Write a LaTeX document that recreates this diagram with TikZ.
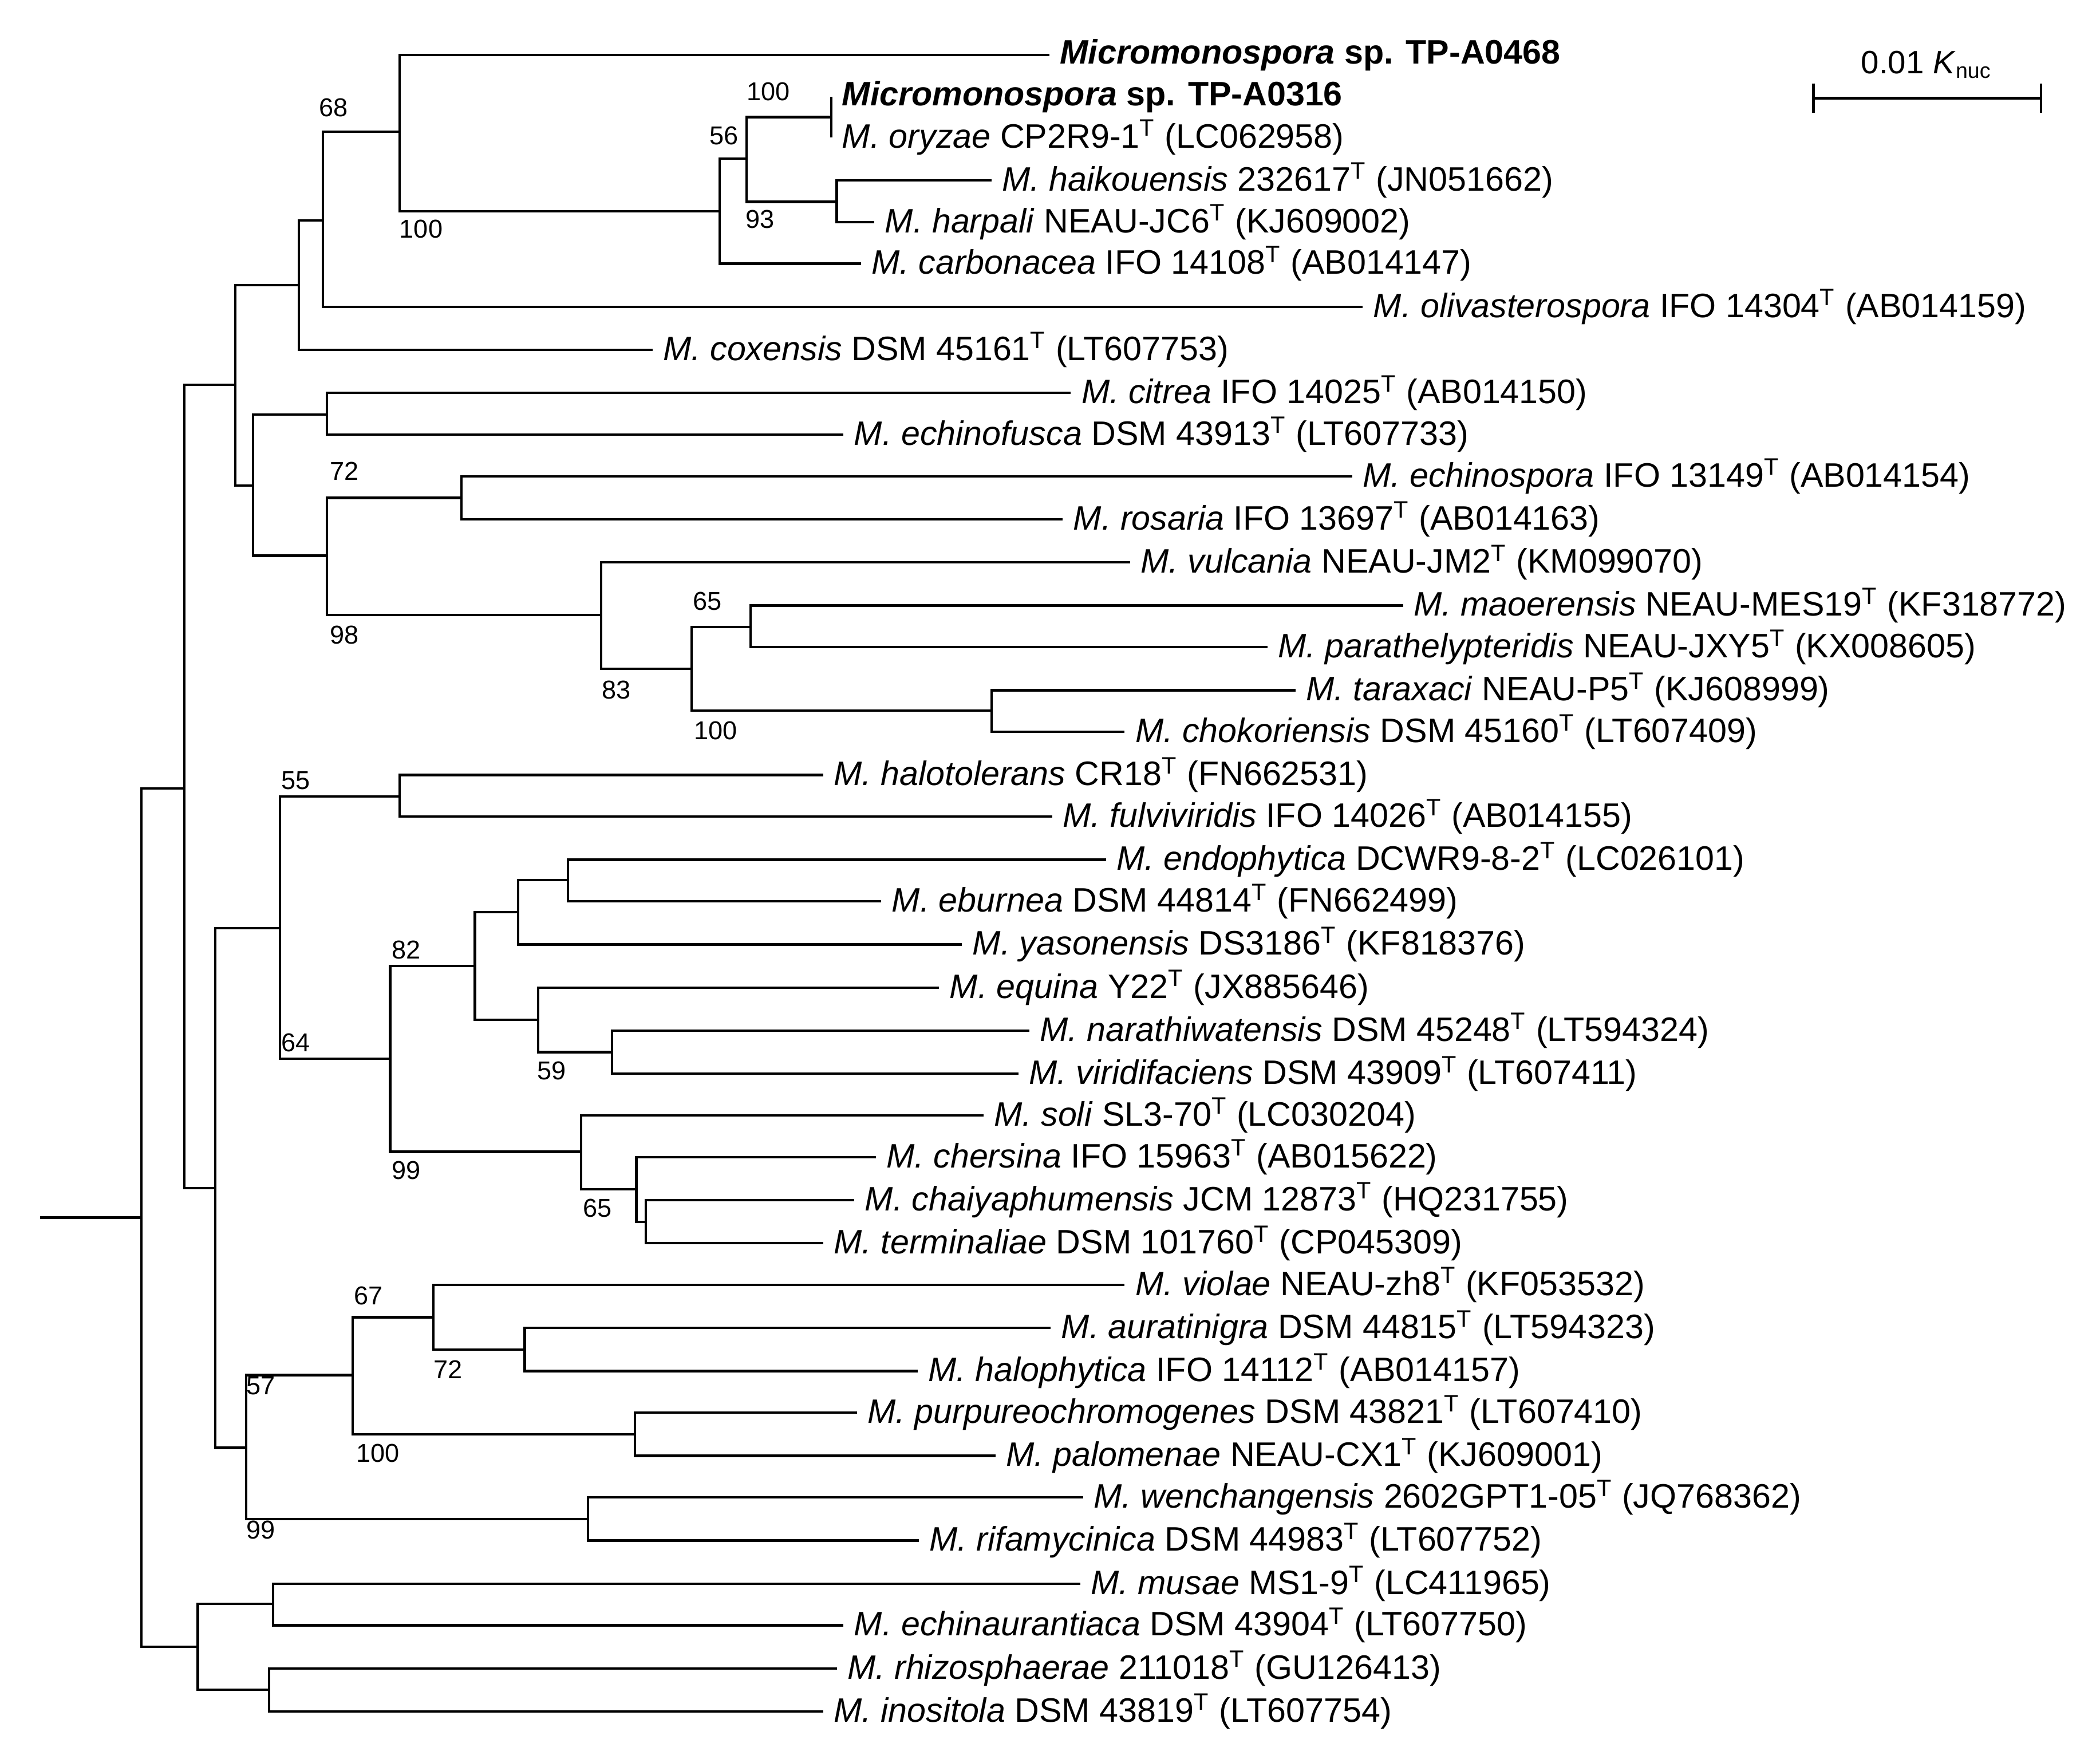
\documentclass[tikz,border=0pt]{standalone}
\usepackage{fontspec}
\setmainfont{Liberation Sans}
\usetikzlibrary{calc}
\begin{document}
\begin{tikzpicture}[x=0.5pt,y=-0.5pt,line width=0.9pt,
 leaf/.style={anchor=west,inner sep=3.5pt,font=\fontsize{12.6}{14}\selectfont},
 bs/.style={font=\fontsize{9.6}{11}\selectfont,inner sep=0pt},
 br/.style={line cap=rect}]
\useasboundingbox (0,0) rectangle (1561,1307);
\newcommand{\Ts}{\textsuperscript{T}}
% internal nodes
\coordinate (root) at (105,905);
\coordinate (N1) at (137,586);
\coordinate (Nb) at (147,1224);
\coordinate (Nt) at (175,286);
\coordinate (Nm) at (160,883);
\coordinate (A222) at (222,212);
\coordinate (A240) at (240,164);
\coordinate (A297) at (297,98);
\coordinate (A535) at (535,157);
\coordinate (A555) at (555,118);
\coordinate (A618) at (618,87);
\coordinate (A622) at (622,150);
\coordinate (B188) at (188,361);
\coordinate (B243a) at (243,308);
\coordinate (B243b) at (243,413);
\coordinate (B343) at (343,370);
\coordinate (B447) at (447,457);
\coordinate (B514) at (514,497);
\coordinate (B558) at (558,466);
\coordinate (B737) at (737,528);
\coordinate (C208) at (208,690);
\coordinate (C297) at (297,592);
\coordinate (C290) at (290,787);
\coordinate (C353) at (353,718);
\coordinate (C385) at (385,678);
\coordinate (C422) at (422,654);
\coordinate (C400) at (400,758);
\coordinate (C455) at (455,782);
\coordinate (C432) at (432,856);
\coordinate (C473) at (473,884);
\coordinate (C480) at (480,908);
\coordinate (D183) at (183,1076);
\coordinate (D262) at (262,1022);
\coordinate (D322) at (322,979);
\coordinate (D390) at (390,1003);
\coordinate (D472) at (472,1066);
\coordinate (D437) at (437,1129);
\coordinate (E203) at (203,1192);
\coordinate (E200) at (200,1256);
\coordinate (rootstart) at (30,905);
% leaves
\node[leaf] (l1) at (780,41) {\textbf{\textit{Micromonospora} sp. TP-A0468}};
\node[leaf] (l2) at (618,72) {\textbf{\textit{Micromonospora} sp. TP-A0316}};
\node[leaf] (l3) at (618,102) {\textit{M. oryzae} CP2R9-1\Ts{} (LC062958)};
\node[leaf] (l4) at (737,134) {\textit{M. haikouensis} 232617\Ts{} (JN051662)};
\node[leaf] (l5) at (650,165) {\textit{M. harpali} NEAU-JC6\Ts{} (KJ609002)};
\node[leaf] (l6) at (640,196) {\textit{M. carbonacea} IFO 14108\Ts{} (AB014147)};
\node[leaf] (l7) at (1013,228) {\textit{M. olivasterospora} IFO 14304\Ts{} (AB014159)};
\node[leaf] (l8) at (485,260) {\textit{M. coxensis} DSM 45161\Ts{} (LT607753)};
\node[leaf] (l9) at (796,292) {\textit{M. citrea} IFO 14025\Ts{} (AB014150)};
\node[leaf] (l10) at (627,323) {\textit{M. echinofusca} DSM 43913\Ts{} (LT607733)};
\node[leaf] (l11) at (1005,354) {\textit{M. echinospora} IFO 13149\Ts{} (AB014154)};
\node[leaf] (l12) at (790,386) {\textit{M. rosaria} IFO 13697\Ts{} (AB014163)};
\node[leaf] (l13) at (840,418) {\textit{M. vulcania} NEAU-JM2\Ts{} (KM099070)};
\node[leaf] (l14) at (1043,450) {\textit{M. maoerensis} NEAU-MES19\Ts{} (KF318772)};
\node[leaf] (l15) at (942,481) {\textit{M. parathelypteridis} NEAU-JXY5\Ts{} (KX008605)};
\node[leaf] (l16) at (963,513) {\textit{M. taraxaci} NEAU-P5\Ts{} (KJ608999)};
\node[leaf] (l17) at (836,544) {\textit{M. chokoriensis} DSM 45160\Ts{} (LT607409)};
\node[leaf] (l18) at (612,576) {\textit{M. halotolerans} CR18\Ts{} (FN662531)};
\node[leaf] (l19) at (782,607) {\textit{M. fulviviridis} IFO 14026\Ts{} (AB014155)};
\node[leaf] (l20) at (822,639) {\textit{M. endophytica} DCWR9-8-2\Ts{} (LC026101)};
\node[leaf] (l21) at (655,670) {\textit{M. eburnea} DSM 44814\Ts{} (FN662499)};
\node[leaf] (l22) at (715,702) {\textit{M. yasonensis} DS3186\Ts{} (KF818376)};
\node[leaf] (l23) at (698,734) {\textit{M. equina} Y22\Ts{} (JX885646)};
\node[leaf] (l24) at (765,766) {\textit{M. narathiwatensis} DSM 45248\Ts{} (LT594324)};
\node[leaf] (l25) at (757,798) {\textit{M. viridifaciens} DSM 43909\Ts{} (LT607411)};
\node[leaf] (l26) at (731,829) {\textit{M. soli} SL3-70\Ts{} (LC030204)};
\node[leaf] (l27) at (651,860) {\textit{M. chersina} IFO 15963\Ts{} (AB015622)};
\node[leaf] (l28) at (635,892) {\textit{M. chaiyaphumensis} JCM 12873\Ts{} (HQ231755)};
\node[leaf] (l29) at (612,924) {\textit{M. terminaliae} DSM 101760\Ts{} (CP045309)};
\node[leaf] (l30) at (836,955) {\textit{M. violae} NEAU-zh8\Ts{} (KF053532)};
\node[leaf] (l31) at (781,987) {\textit{M. auratinigra} DSM 44815\Ts{} (LT594323)};
\node[leaf] (l32) at (682,1019) {\textit{M. halophytica} IFO 14112\Ts{} (AB014157)};
\node[leaf] (l33) at (637,1050) {\textit{M. purpureochromogenes} DSM 43821\Ts{} (LT607410)};
\node[leaf] (l34) at (740,1082) {\textit{M. palomenae} NEAU-CX1\Ts{} (KJ609001)};
\node[leaf] (l35) at (805,1113) {\textit{M. wenchangensis} 2602GPT1-05\Ts{} (JQ768362)};
\node[leaf] (l36) at (683,1145) {\textit{M. rifamycinica} DSM 44983\Ts{} (LT607752)};
\node[leaf] (l37) at (803,1177) {\textit{M. musae} MS1-9\Ts{} (LC411965)};
\node[leaf] (l38) at (627,1208) {\textit{M. echinaurantiaca} DSM 43904\Ts{} (LT607750)};
\node[leaf] (l39) at (622,1240) {\textit{M. rhizosphaerae} 211018\Ts{} (GU126413)};
\node[leaf] (l40) at (612,1272) {\textit{M. inositola} DSM 43819\Ts{} (LT607754)};
% branches
\draw (rootstart) -- (root);
\draw (root) |- (N1); \draw (root) |- (Nb);
\draw (N1) |- (Nt); \draw (N1) |- (Nm);
\draw (Nt) |- (A222); \draw (Nt) |- (B188);
\draw (A222) |- (A240); \draw (A222) |- (l8.west);
\draw (A240) |- (A297); \draw (A240) |- (l7.west);
\draw (A297) |- (l1.west); \draw (A297) |- (A535);
\draw (A535) |- (A555); \draw (A535) |- (l6.west);
\draw (A555) |- (A618); \draw (A555) |- (A622);
\draw (A618) -- (l2.west); \draw (A618) -- (l3.west);
\draw (A622) |- (l4.west); \draw (A622) |- (l5.west);
\draw (B188) |- (B243a); \draw (B188) |- (B243b);
\draw (B243a) |- (l9.west); \draw (B243a) |- (l10.west);
\draw (B243b) |- (B343); \draw (B243b) |- (B447);
\draw (B343) |- (l11.west); \draw (B343) |- (l12.west);
\draw (B447) |- (l13.west); \draw (B447) |- (B514);
\draw (B514) |- (B558); \draw (B514) |- (B737);
\draw (B558) |- (l14.west); \draw (B558) |- (l15.west);
\draw (B737) |- (l16.west); \draw (B737) |- (l17.west);
\draw (Nm) |- (C208); \draw (Nm) |- (D183);
\draw (C208) |- (C297); \draw (C208) |- (C290);
\draw (C297) |- (l18.west); \draw (C297) |- (l19.west);
\draw (C290) |- (C353); \draw (C290) |- (C432);
\draw (C353) |- (C385); \draw (C353) |- (C400);
\draw (C385) |- (C422); \draw (C385) |- (l22.west);
\draw (C422) |- (l20.west); \draw (C422) |- (l21.west);
\draw (C400) |- (l23.west); \draw (C400) |- (C455);
\draw (C455) |- (l24.west); \draw (C455) |- (l25.west);
\draw (C432) |- (l26.west); \draw (C432) |- (C473);
\draw (C473) |- (l27.west); \draw (C473) |- (C480);
\draw (C480) |- (l28.west); \draw (C480) |- (l29.west);
\draw (D183) |- (D262); \draw (D183) |- (D437);
\draw (D262) |- (D322); \draw (D262) |- (D472);
\draw (D322) |- (l30.west); \draw (D322) |- (D390);
\draw (D390) |- (l31.west); \draw (D390) |- (l32.west);
\draw (D472) |- (l33.west); \draw (D472) |- (l34.west);
\draw (D437) |- (l35.west); \draw (D437) |- (l36.west);
\draw (Nb) |- (E203); \draw (Nb) |- (E200);
\draw (E203) |- (l37.west); \draw (E203) |- (l38.west);
\draw (E200) |- (l39.west); \draw (E200) |- (l40.west);
% bootstrap values
\foreach \x/\y/\t in {248/80/68, 313/170/100, 571/68/100, 538/101/56, 565/163/93,
 256/350/72, 256/472/98, 458/513/83, 526/447/65, 532/543/100,
 220/580/55, 220/775/64, 302/706/82, 410/796/59, 302/870/99, 444/898/65,
 274/963/67, 333/1018/72, 194/1030/57, 281/1080/100, 194/1137/99}
 \node[bs] (b\x-\y) at (\x,\y) {\t};
% scale bar
\coordinate (s1) at (1348,73); \coordinate (s2) at (1517,73);
\draw (s1) -- (s2);
\draw ($(s1)+(0,-11)$) -- ($(s1)+(0,11)$);
\draw ($(s2)+(0,-11)$) -- ($(s2)+(0,11)$);
\node[font=\fontsize{12}{14}\selectfont] (sl) at (1432,48) {0.01 \textit{K}\textsubscript{nuc}};
\end{tikzpicture}
\end{document}
